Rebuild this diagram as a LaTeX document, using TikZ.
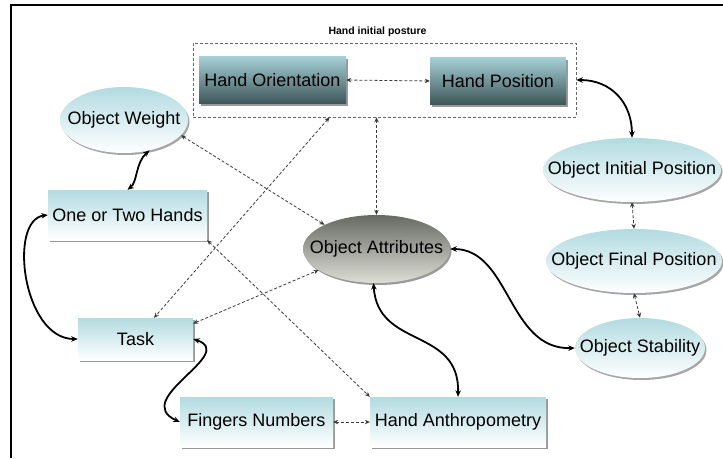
\documentclass[tikz,border=0pt]{standalone}
\usepackage{fontspec}
\setmainfont{Liberation Sans}
\usetikzlibrary{arrows.meta,shapes.geometric,shadows,calc}

\definecolor{tealTop}{HTML}{B2DBE1}
\definecolor{tealMid}{HTML}{A6D0D6}
\definecolor{tealDark}{HTML}{3E5659}
\definecolor{greyTop}{HTML}{676963}
\definecolor{greyBottom}{HTML}{DCDED6}
\definecolor{linkGrey}{HTML}{3A3A3A}

\begin{document}
\begin{tikzpicture}
[x=1pt,y=-1pt,font=\fontsize{18}{21}\selectfont,
  lightBox/.style={shape=rectangle,top color=tealTop,bottom color=white,inner sep=2pt,
    drop shadow={shadow xshift=2pt,shadow yshift=-2pt,fill=gray!80,opacity=1}},%
  darkBox/.style={shape=rectangle,top color=tealMid,bottom color=tealDark,inner sep=2pt,
    drop shadow={shadow xshift=2pt,shadow yshift=-2pt,fill=gray!80,opacity=1}},%
  blobNode/.style={shape=ellipse,top color=tealTop,bottom color=white,inner sep=0pt,
    drop shadow={shadow xshift=1.5pt,shadow yshift=-2pt,fill=gray!70,opacity=1}},%
  greyBlob/.style={shape=ellipse,top color=greyTop,bottom color=greyBottom,inner sep=0pt,
    drop shadow={shadow xshift=1.5pt,shadow yshift=-2pt,fill=gray!80,opacity=1}},%
  postureBox/.style={shape=rectangle,draw=gray!80!black,densely dashed,line width=0.7pt},%
  postureLabel/.style={font=\fontsize{10.5}{12}\selectfont\bfseries,inner sep=0pt,
    label distance=6pt,xshift=-7pt},%
  dashLink/.style={densely dashed,line width=0.8pt,color=linkGrey,
    {Stealth[length=5pt,width=4.5pt]}-{Stealth[length=5pt,width=4.5pt]}},%
  thickLink/.style={line width=1.8pt,
    {Stealth[length=6.5pt,width=5.5pt]}-{Stealth[length=6.5pt,width=5.5pt]}},%
  frameLine/.style={line width=2pt}]
\useasboundingbox (0,0) rectangle (723,458);
%% the frame
\draw[frameLine] (11,458) -- (11,5) -- (723,5);
%% the posture group
\node (posture) at (384.5,80) [postureBox,minimum width=383pt,minimum height=74pt,
  label={[postureLabel]above:Hand initial posture}] {};
\foreach \nodename/\x/\y/\w/\txt in {ho/272.5/80/147/Hand Orientation, hp/498/81/136/Hand Position}
{
  \node (\nodename) at (\x,\y) [darkBox,minimum width=\w pt,minimum height=47pt] {\txt};
}
%% the light boxes
\foreach \nodename/\x/\y/\w/\h/\txt in {oth/127.5/215/159/50/One or Two Hands,
  task/135.5/339/115/42/Task, fingers/256.5/422/153/50/Fingers Numbers,
  anthro/458/422/176/50/Hand Anthropometry}
{
  \node (\nodename) at (\x,\y) [lightBox,minimum width=\w pt,minimum height=\h pt] {\txt};
}
%% the ellipses
\foreach \nodename/\x/\y/\w/\h/\txt in {ow/124/120/128/66/Object Weight,
  oip/632/170/178/64/Object Initial Position, ofp/634/261/176/64/Object Final Position,
  os/640/348/130/60/Object Stability}
{
  \node (\nodename) at (\x,\y) [blobNode,minimum width=\w pt,minimum height=\h pt,
    label={center:\txt}] {};
}
\node (oa) at (376.5,249) [greyBlob,minimum width=147pt,minimum height=68pt,
  label={center:Object Attributes}] {};
%% the dashed links
\foreach \u/\v in {ho.east/hp.west, oip.south/ofp.north, ofp.south/os.north,
  fingers.east/anthro.west, ow.345/oa.155, oth.south east/anthro.north west,
  task.15/oa.200}
{
  \draw[dashLink] (\u) -- (\v);
}
\draw[dashLink] (oa.north |- posture.south) -- (oa.north);
\draw[dashLink] ($(posture.south)+(-55,0)$) -- (task);
%% the thick links
\draw[thickLink] (posture.east) .. controls +(35,0) and +(0,-35) .. (oip.north);
\draw[thickLink] (ow.310) .. controls +(-14,12) and +(10,-8) .. (oth.north);
\draw[thickLink] (oth.west) .. controls +(-40,5) and +(-55,0) .. (task.west);
\draw[thickLink] (task.east) .. controls +(45,15) and +(-50,-23) .. (fingers.west);
\draw[thickLink] (oa.265) .. controls +(4,66) and +(2,-70) .. (anthro.north);
\draw[thickLink] (oa.east) .. controls +(60,0) and +(-67,2) .. (os.west);
\end{tikzpicture}
\end{document}
